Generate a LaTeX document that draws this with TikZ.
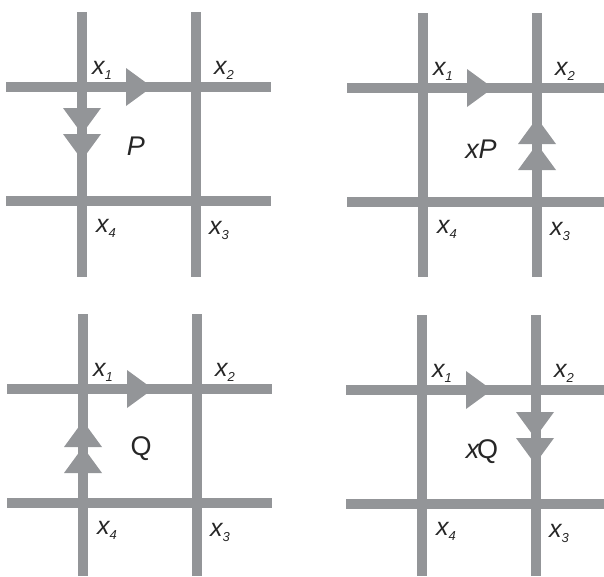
\documentclass[tikz,border=0pt]{standalone}
\usepackage{fontspec}
\setmainfont{Liberation Sans}
\definecolor{lc}{HTML}{939598}
\newcommand\lab[2]{#1\raisebox{-5pt}{\fontsize{13}{13}\selectfont #2}}
\tikzset{
  gl/.style={draw=lc, line width=10pt},
  lbl/.style={font=\fontsize{25}{25}\selectfont\itshape, inner sep=0pt, text=black!85},
  big/.style={font=\fontsize{27}{27}\selectfont, inner sep=0pt, text=black!85},
  tri/.pic={\fill[lc] (0,0) -- (-26,19) -- (-26,-19) -- cycle;}
}
\newcommand\drawgrid[3]{%
  \coordinate (#1-hl1) at (-76,0);
  \coordinate (#1-hr1) at (#2,0);
  \coordinate (#1-hl2) at (-76,114);
  \coordinate (#1-hr2) at (#2,114);
  \coordinate (#1-vt1) at (0,-75);
  \coordinate (#1-vb1) at (0,#3);
  \coordinate (#1-vt2) at (114,-75);
  \coordinate (#1-vb2) at (114,#3);
  \draw[gl] (#1-hl1) -- (#1-hr1);
  \draw[gl] (#1-hl2) -- (#1-hr2);
  \draw[gl] (#1-vt1) -- (#1-vb1);
  \draw[gl] (#1-vt2) -- (#1-vb2);
  \node[lbl] (#1-x1) at (20,-17) {\lab{x}{1}};
  \node[lbl] (#1-x2) at (142,-17) {\lab{x}{2}};
  \node[lbl] (#1-x4) at (24,141) {\lab{x}{4}};
  \node[lbl] (#1-x3) at (137,143) {\lab{x}{3}};
  \pic at (70,0) {tri};
}
\begin{document}
\begin{tikzpicture}[x=1pt,y=-1pt]
\useasboundingbox (0,0) rectangle (604,576);
% panel P
\begin{scope}[shift={(82,87)}]
  \drawgrid{a}{189}{190}
  \pic[rotate=-90] at (0,47) {tri};
  \pic[rotate=-90] at (0,73) {tri};
  \node[big, font=\fontsize{27}{27}\selectfont\itshape] (a-P) at (54,59) {P};
\end{scope}
% panel xP
\begin{scope}[shift={(423,88)}]
  \drawgrid{b}{181}{189}
  \pic[rotate=90] at (114,30) {tri};
  \pic[rotate=90] at (114,56) {tri};
  \node[big] (b-P) at (58,61) {\textit{x}\kern-1pt\textit{P}};
\end{scope}
% panel Q
\begin{scope}[shift={(83,389)}]
  \drawgrid{c}{189}{187}
  \pic[rotate=90] at (0,32) {tri};
  \pic[rotate=90] at (0,58) {tri};
  \node[big] (c-Q) at (58,60) {Q};
\end{scope}
% panel xQ
\begin{scope}[shift={(422,390)}]
  \drawgrid{d}{182}{186}
  \pic[rotate=-90] at (113,48) {tri};
  \pic[rotate=-90] at (113,74) {tri};
  \node[big] (d-Q) at (60,62) {\textit{x}\kern-3pt Q};
\end{scope}
\end{tikzpicture}
\end{document}
